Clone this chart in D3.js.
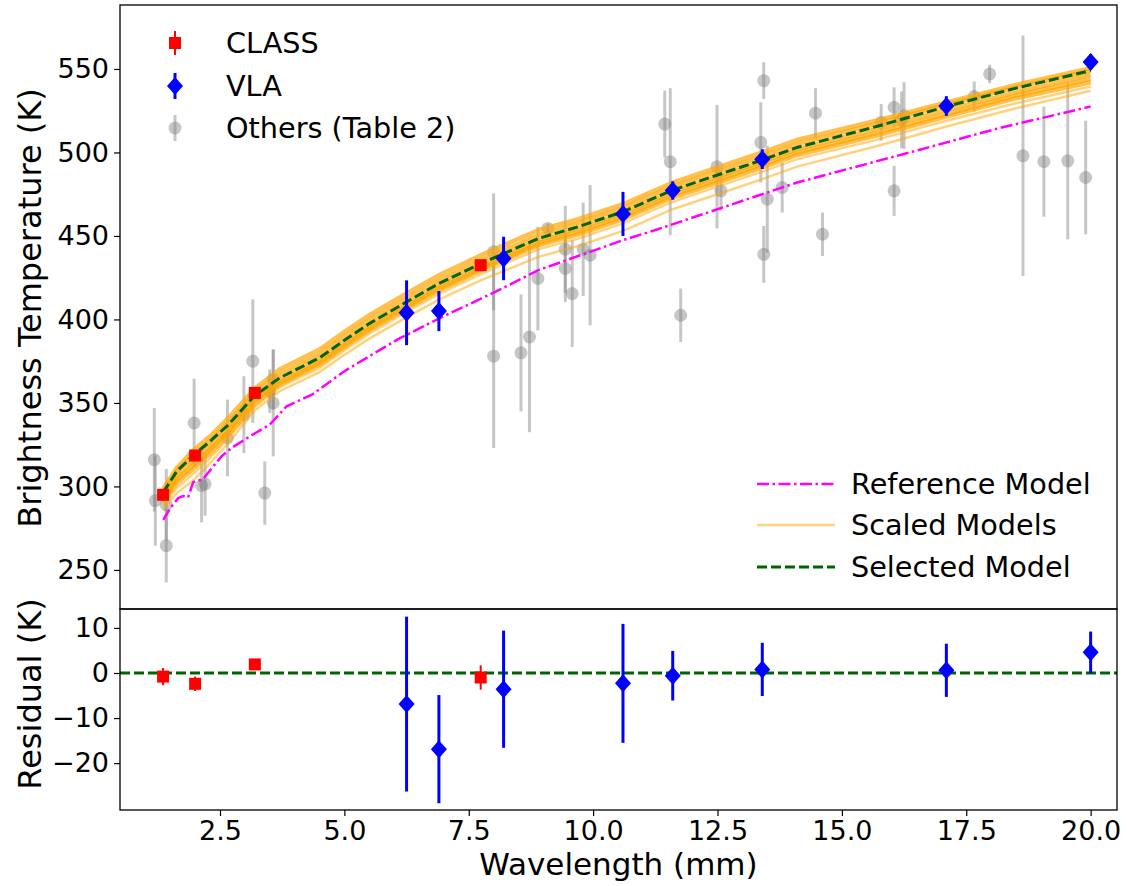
<!DOCTYPE html>
<html>
<head>
<meta charset="utf-8">
<script src="https://cdn.jsdelivr.net/npm/d3@7"></script>
<style>
  body { margin: 0; background: #fff; }
  text { font-family: "DejaVu Sans", sans-serif; fill: #000; }
</style>
</head>
<body>
<div id="chart"></div>
<script>
// ---- Data ----
// CLASS measurements
const classWl = [1.356, 2.0, 3.2, 7.74];
const classT = [295, 318.5, 356, 432.5];
const classErr = [1.9, 1.6, 0.8, 2.7];
const classRes = [-0.8, -2.4, 1.9, -1.0];

// VLA measurements
const vlaWl = [6.25, 6.9, 8.2, 10.6, 11.6, 13.4, 17.1, 20.0];
const vlaT = [404, 405, 436.5, 463.2, 477.2, 496, 527.8, 554.2];
const vlaErr = [19.4, 12, 13, 13.2, 5.5, 5.9, 5.9, 4.6];
const vlaRes = [-6.9, -16.9, -3.6, -2.3, -0.6, 0.8, 0.6, 4.6];

// Others (Table 2)
const otherWl = [1.18, 1.2, 1.42, 1.42, 1.98, 2.13, 2.2, 2.65, 2.98, 3.16, 3.4, 3.5, 3.57, 3.57,
  8.0, 8.0, 8.55, 8.72, 8.89, 9.09, 9.44, 9.44, 9.58, 9.8, 9.94,
  11.44, 11.55, 11.76, 12.49, 12.57, 13.37, 13.43, 13.43, 13.5, 13.8, 14.47, 14.61,
  15.79, 16.05, 16.05, 16.2, 16.25, 17.66, 17.97, 18.64, 19.06, 19.54, 19.9];
const otherT = [316, 291.5, 264.5, 289, 338, 300.5, 301.5, 329, 343, 375, 296, 357, 364, 350,
  440.5, 378, 380, 389.5, 424.5, 454.5, 442, 430.5, 415.5, 442, 438.5,
  517, 494.5, 402.5, 491.5, 477, 506, 543, 439, 472, 479, 523.5, 451,
  518, 527, 477, 519.5, 522, 533.5, 547, 498, 494.5, 495, 485];
const otherErr = [31, 27, 22, 21.5, 26.5, 22, 19, 23, 23, 37, 19, 13, 18, 32,
  35, 55, 35, 57, 31, 3, 26, 20, 32, 28, 42,
  20, 44, 16, 37, 12, 24, 11, 17, 32, 15, 15, 13,
  11, 12, 15, 17, 20, 9, 5.5, 72, 33, 47, 34];

// Reference model
const refWl = [1.36, 1.5, 1.66, 1.76, 1.86, 1.96, 2.16, 2.53, 2.73, 3.1, 3.5, 3.84, 4.35, 5.0,
  5.7, 6.1, 7.0, 8.0, 8.9, 10.6, 11.3, 12.5, 14.1, 16.55, 18.15, 20.0];
const refT = [280, 287, 293, 294.3, 293.5, 302.5, 304.5, 318, 323, 330, 337, 348, 355, 369,
  381.5, 388.5, 402, 416, 429.5, 447.5, 454, 466, 482, 501.5, 514.5, 527.5];

// Selected model and scaled models share one wavelength grid
const modelWl = [1.36, 1.63, 1.96, 2.3, 2.67, 3.2, 3.7, 4.5, 5.0, 5.5, 6.25, 6.9, 7.75, 8.9,
  9.7, 10.6, 11.6, 12.5, 13.4, 14.1, 15.75, 17.1, 18.5, 20.0];
const selectedT = [296.5, 309, 318.5, 327, 337, 354.5, 365, 377, 387.5, 397.5, 410.5, 421.5, 433.5, 448.5,
  455.5, 464.5, 477.5, 486.5, 495.5, 503, 516, 527.5, 538.5, 549];
const scaledA = [298.5, 311, 321.5, 330, 341, 358.5, 370, 382, 392.5, 402.5, 415.5, 426.5, 438.5, 453.5,
  460, 469, 482, 491, 500, 507.5, 519.5, 530, 540.5, 550.5];
const scaledB = [296.5, 309, 318.5, 327, 338, 355.5, 367, 379, 389.5, 399.5, 412.5, 423.5, 435.5, 450.5,
  457.5, 466.5, 479.5, 488.5, 497.5, 505, 517.5, 528.5, 539, 549];
const scaledC = [294.5, 306, 315.5, 324, 335, 353.5, 364, 376, 386.5, 396.5, 409.5, 420.5, 432.5, 447.5,
  454.5, 463.5, 476.5, 485.5, 494.5, 502, 514.5, 525.5, 536, 546.5];
const scaledD = [292.5, 304, 312.5, 322, 333, 351.5, 362, 374, 384.5, 394.5, 407.5, 418.5, 430.5, 445.5,
  452.5, 461.5, 474.5, 483.5, 492.5, 500, 512, 523, 534, 544];
const scaledE = [290.5, 302, 310.5, 320, 331, 349.5, 361, 373, 383.5, 393.5, 406.5, 417.5, 429.5, 444.5,
  451, 460, 473, 482, 491, 498.5, 510.5, 521.5, 532.5, 542];
const scaledF = [288.5, 299, 307.5, 317, 329, 347.5, 359.5, 371, 381.5, 391.5, 404.5, 415.3, 427.2, 442,
  448.5, 457.5, 470.5, 479.5, 488.5, 496, 508, 519, 529.5, 539.5];
const scaledG = [286.5, 296, 303.5, 314, 326, 345.5, 357, 368.5, 378.8, 388.5, 401.2, 411.9, 423.5, 437.5,
  444, 453, 466, 475, 484, 491.5, 504.2, 515.5, 526.5, 537];

const xTicks = [2.5, 5.0, 7.5, 10.0, 12.5, 15.0, 17.5, 20.0];
const tTicks = [250, 300, 350, 400, 450, 500, 550];
const resTicks = [-20, -10, 0, 10];

// ---- Layout ----
const width = 1127, height = 886;
const plotLeft = 120, plotRight = 1117;
const mainTop = 5, mainBottom = 609, resBottom = 810;

const svg = d3.select("#chart").append("svg")
  .attr("width", width)
  .attr("height", height);

const x = d3.scaleLinear().domain([0.49, 20.53]).range([plotLeft, plotRight]);
const yMain = d3.scaleLinear().domain([226.6, 588.3]).range([mainBottom, mainTop]);
const yRes = d3.scaleLinear().domain([-30.4, 14.2]).range([resBottom, mainBottom]);

// clip for each panel
svg.append("clipPath").attr("id", "clipMain")
  .append("rect").attr("x", plotLeft).attr("y", mainTop)
  .attr("width", plotRight - plotLeft).attr("height", mainBottom - mainTop);
svg.append("clipPath").attr("id", "clipRes")
  .append("rect").attr("x", plotLeft).attr("y", mainBottom)
  .attr("width", plotRight - plotLeft).attr("height", resBottom - mainBottom);

const main = svg.append("g").attr("clip-path", "url(#clipMain)");
const res = svg.append("g").attr("clip-path", "url(#clipRes)");

// ---- Main panel ----
// Others (grey, translucent)
const others = otherWl.map((w, i) => ({w: w, t: otherT[i], e: otherErr[i]}));
main.selectAll(".otherBar").data(others).enter().append("line")
  .attr("x1", d => x(d.w)).attr("x2", d => x(d.w))
  .attr("y1", d => yMain(d.t - d.e)).attr("y2", d => yMain(d.t + d.e))
  .attr("stroke", "#808080").attr("stroke-opacity", 0.45).attr("stroke-width", 3);
main.selectAll(".otherDot").data(others).enter().append("circle")
  .attr("cx", d => x(d.w)).attr("cy", d => yMain(d.t)).attr("r", 6.5)
  .attr("fill", "#808080").attr("fill-opacity", 0.45);

// Scaled models: the upper ones overlap into a solid band
const modelLine = d3.line().x((d, i) => x(modelWl[i])).y(d => yMain(d));
[scaledA, scaledB, scaledC, scaledD, scaledE, scaledF, scaledG].forEach((s, k) => {
  main.append("path")
    .attr("d", modelLine(s))
    .attr("fill", "none")
    .attr("stroke", "#FFA500")
    .attr("stroke-opacity", k < 5 ? 0.7 : 0.5)
    .attr("stroke-width", k < 5 ? 4.5 : 2.5);
});

// Reference model
const refLine = d3.line().x((d, i) => x(refWl[i])).y(d => yMain(d));
main.append("path")
  .attr("d", refLine(refT))
  .attr("fill", "none")
  .attr("stroke", "#FF00FF")
  .attr("stroke-width", 2.5)
  .attr("stroke-dasharray", "12,3.5,2.5,3.5");

// Selected model
main.append("path")
  .attr("d", modelLine(selectedT))
  .attr("fill", "none")
  .attr("stroke", "#006400")
  .attr("stroke-width", 3)
  .attr("stroke-dasharray", "10,4");

// CLASS
const classPts = classWl.map((w, i) => ({w: w, t: classT[i], e: classErr[i], r: classRes[i]}));
main.selectAll(".classBar").data(classPts).enter().append("line")
  .attr("x1", d => x(d.w)).attr("x2", d => x(d.w))
  .attr("y1", d => yMain(d.t - d.e)).attr("y2", d => yMain(d.t + d.e))
  .attr("stroke", "#FF0000").attr("stroke-width", 2);
main.selectAll(".classDot").data(classPts).enter().append("rect")
  .attr("x", d => x(d.w) - 6).attr("y", d => yMain(d.t) - 6)
  .attr("width", 12).attr("height", 12).attr("fill", "#FF0000");

// VLA
const vlaPts = vlaWl.map((w, i) => ({w: w, t: vlaT[i], e: vlaErr[i], r: vlaRes[i]}));
const diamond = "M0,-9L8,0L0,9L-8,0Z";
main.selectAll(".vlaBar").data(vlaPts).enter().append("line")
  .attr("x1", d => x(d.w)).attr("x2", d => x(d.w))
  .attr("y1", d => yMain(d.t - d.e)).attr("y2", d => yMain(d.t + d.e))
  .attr("stroke", "#0000FF").attr("stroke-width", 3);
main.selectAll(".vlaDot").data(vlaPts).enter().append("path")
  .attr("d", diamond)
  .attr("transform", d => "translate(" + x(d.w) + "," + yMain(d.t) + ")")
  .attr("fill", "#0000FF");

// ---- Residual panel ----
res.append("line")
  .attr("x1", plotLeft).attr("x2", plotRight)
  .attr("y1", yRes(0)).attr("y2", yRes(0))
  .attr("stroke", "#006400").attr("stroke-width", 3)
  .attr("stroke-dasharray", "10,4");

res.selectAll(".classResBar").data(classPts).enter().append("line")
  .attr("x1", d => x(d.w)).attr("x2", d => x(d.w))
  .attr("y1", d => yRes(d.r - d.e)).attr("y2", d => yRes(d.r + d.e))
  .attr("stroke", "#FF0000").attr("stroke-width", 2);
res.selectAll(".classResDot").data(classPts).enter().append("rect")
  .attr("x", d => x(d.w) - 6).attr("y", d => yRes(d.r) - 6)
  .attr("width", 12).attr("height", 12).attr("fill", "#FF0000");

res.selectAll(".vlaResBar").data(vlaPts).enter().append("line")
  .attr("x1", d => x(d.w)).attr("x2", d => x(d.w))
  .attr("y1", d => yRes(d.r - d.e)).attr("y2", d => yRes(d.r + d.e))
  .attr("stroke", "#0000FF").attr("stroke-width", 3);
res.selectAll(".vlaResDot").data(vlaPts).enter().append("path")
  .attr("d", diamond)
  .attr("transform", d => "translate(" + x(d.w) + "," + yRes(d.r) + ")")
  .attr("fill", "#0000FF");

// ---- Axes ----
function styleAxis(g) {
  g.select(".domain").remove();
  g.selectAll(".tick line").attr("stroke", "#000").attr("stroke-width", 1.2);
  g.selectAll(".tick text").style("font-size", "27px").attr("fill", "#000");
}

svg.append("g")
  .attr("transform", "translate(" + plotLeft + ",0)")
  .call(d3.axisLeft(yMain).tickValues(tTicks).tickFormat(d3.format("d")).tickSize(6).tickPadding(5))
  .call(styleAxis);

svg.append("g")
  .attr("transform", "translate(" + plotLeft + ",0)")
  .call(d3.axisLeft(yRes).tickValues(resTicks).tickFormat(d => d < 0 ? "\u2212" + Math.abs(d) : d).tickSize(6).tickPadding(5))
  .call(styleAxis);

svg.append("g")
  .attr("transform", "translate(0," + resBottom + ")")
  .call(d3.axisBottom(x).tickValues(xTicks).tickFormat(d3.format(".1f")).tickSize(6).tickPadding(5))
  .call(styleAxis);

// frames
[[mainTop, mainBottom], [mainBottom, resBottom]].forEach(p => {
  svg.append("rect")
    .attr("x", plotLeft).attr("y", p[0])
    .attr("width", plotRight - plotLeft).attr("height", p[1] - p[0])
    .attr("fill", "none").attr("stroke", "#000").attr("stroke-width", 1.3);
});

// axis labels
svg.append("text")
  .attr("transform", "translate(41,308) rotate(-90)")
  .attr("text-anchor", "middle")
  .style("font-size", "32px")
  .text("Brightness Temperature (K)");
svg.append("text")
  .attr("transform", "translate(41,694) rotate(-90)")
  .attr("text-anchor", "middle")
  .style("font-size", "32px")
  .text("Residual (K)");
svg.append("text")
  .attr("x", (plotLeft + plotRight) / 2).attr("y", 875)
  .attr("text-anchor", "middle")
  .style("font-size", "31px")
  .text("Wavelength (mm)");

// ---- Legends ----
const legendFont = "28.7px";
const leg1 = svg.append("g");
const leg1Items = ["CLASS", "VLA", "Others (Table 2)"];
const leg1Y = [43, 86, 128];
leg1Items.forEach((name, i) => {
  const cx = 175, cy = leg1Y[i];
  if (i === 0) {
    leg1.append("line").attr("x1", cx).attr("x2", cx).attr("y1", cy - 12).attr("y2", cy + 12)
      .attr("stroke", "#FF0000").attr("stroke-width", 2);
    leg1.append("rect").attr("x", cx - 6).attr("y", cy - 6).attr("width", 12).attr("height", 12)
      .attr("fill", "#FF0000");
  } else if (i === 1) {
    leg1.append("line").attr("x1", cx).attr("x2", cx).attr("y1", cy - 13).attr("y2", cy + 13)
      .attr("stroke", "#0000FF").attr("stroke-width", 3);
    leg1.append("path").attr("d", diamond).attr("transform", "translate(" + cx + "," + cy + ")")
      .attr("fill", "#0000FF");
  } else {
    leg1.append("line").attr("x1", cx).attr("x2", cx).attr("y1", cy - 13).attr("y2", cy + 13)
      .attr("stroke", "#808080").attr("stroke-opacity", 0.45).attr("stroke-width", 3);
    leg1.append("circle").attr("cx", cx).attr("cy", cy).attr("r", 6.5)
      .attr("fill", "#808080").attr("fill-opacity", 0.45);
  }
  leg1.append("text").attr("x", 226).attr("y", cy).attr("dy", "0.35em")
    .style("font-size", legendFont).text(name);
});

const leg2 = svg.append("g");
const leg2Items = ["Reference Model", "Scaled Models", "Selected Model"];
const leg2Y = [484, 525, 567];
leg2Items.forEach((name, i) => {
  const l = leg2.append("line").attr("x1", 757).attr("x2", 835)
    .attr("y1", leg2Y[i]).attr("y2", leg2Y[i]);
  if (i === 0) {
    l.attr("stroke", "#FF00FF").attr("stroke-width", 2.5).attr("stroke-dasharray", "12,3.5,2.5,3.5");
  } else if (i === 1) {
    l.attr("stroke", "#FFA500").attr("stroke-opacity", 0.5).attr("stroke-width", 2.5);
  } else {
    l.attr("stroke", "#006400").attr("stroke-width", 3).attr("stroke-dasharray", "10,4");
  }
  leg2.append("text").attr("x", 851).attr("y", leg2Y[i]).attr("dy", "0.35em")
    .style("font-size", legendFont).text(name);
});
</script>
</body>
</html>
